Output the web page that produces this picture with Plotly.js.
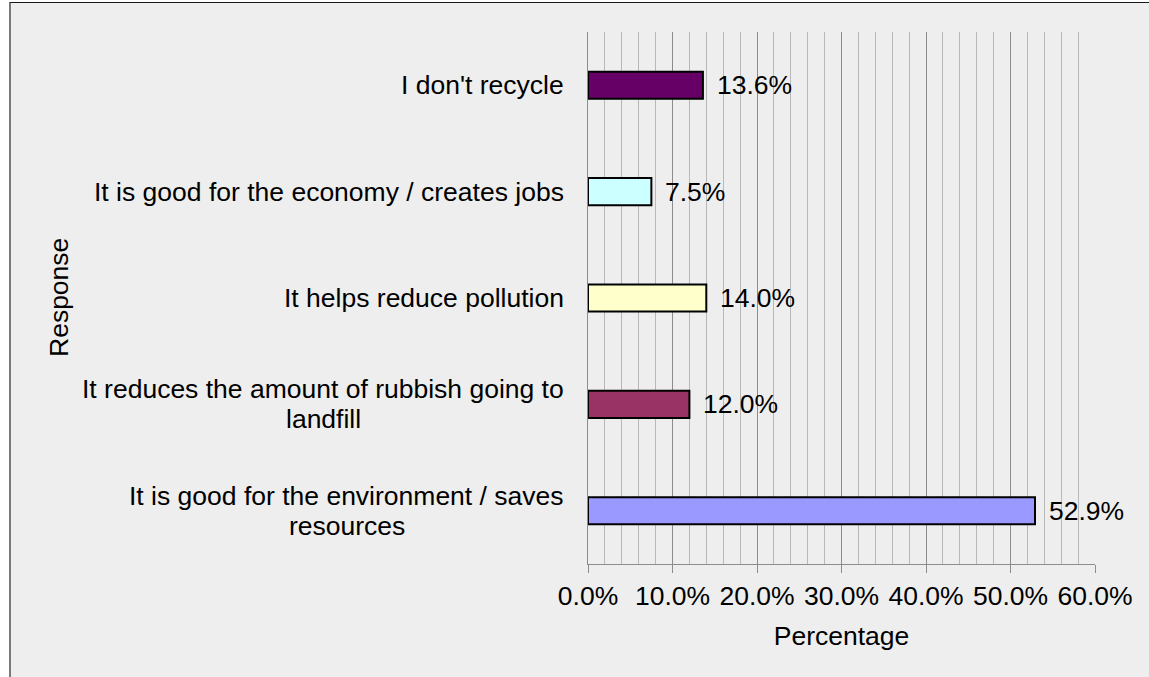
<!DOCTYPE html>
<html>
<head>
<meta charset="utf-8">
<script src="https://cdn.plot.ly/plotly-3.0.1.min.js"></script>
<style>
  html, body { margin: 0; padding: 0; background: #ffffff; }
  #frame { position: absolute; left: 9px; top: 2px; width: 1140px; height: 675px;
           background: #eeeeee; border-top: 1px solid #1a1a1a; border-left: 2px solid #7a7a7a; box-sizing: border-box; }
  #chart { position: absolute; left: 0; top: 0; width: 1149px; height: 677px; }
</style>
</head>
<body>
<div id="frame"></div>
<div id="chart"></div>
<script>
// Categories listed bottom to top
var categories = [
  "It is good for the environment / saves<br>resources",
  "It reduces the amount of rubbish going to<br>landfill",
  "It helps reduce pollution",
  "It is good for the economy / creates jobs",
  "I don't recycle"
];
var values = [52.9, 12.0, 14.0, 7.5, 13.6];
var barColors = ["#9999ff", "#993366", "#ffffcc", "#ccffff", "#660066"];
var xTitle = "Percentage";
var yTitle = "Response";

var FONT = "Liberation Sans, Arial, sans-serif";
var FS = 26.5;
var LINE_GAP = 30;

var trace = {
  type: "bar",
  orientation: "h",
  y: categories,
  x: values,
  width: 0.255,
  marker: { color: barColors, line: { color: "#000000", width: 2 } },
  hoverinfo: "none"
};

// measure text widths to centre wrapped lines within a right-aligned block
var ctx = document.createElement("canvas").getContext("2d");
ctx.font = FS + "px 'Liberation Sans', Arial, sans-serif";
function textW(s) { return ctx.measureText(s).width; }

var annotations = [];
categories.forEach(function (c) {
  var lines = c.split("<br>");
  var maxW = Math.max.apply(null, lines.map(textW));
  var n = lines.length;
  lines.forEach(function (ln, k) {
    annotations.push({
      xref: "paper", yref: "y", x: 0, y: c,
      xanchor: "center", yanchor: "middle", align: "center",
      xshift: -24 - maxW / 2,
      yshift: ((n - 1) / 2 - k) * LINE_GAP,
      showarrow: false, text: ln,
      font: { family: FONT, size: FS, color: "#000" }
    });
  });
});
// value labels
categories.forEach(function (c, i) {
  annotations.push({
    xref: "x", yref: "y", x: values[i], y: c,
    xanchor: "left", yanchor: "middle",
    xshift: 12, showarrow: false, text: values[i].toFixed(1) + "%",
    font: { family: FONT, size: FS, color: "#000" }
  });
});
// y axis title
annotations.push({
  xref: "paper", yref: "paper", x: (59 - 588) / 507, y: 0.5,
  xanchor: "center", yanchor: "middle", textangle: -90, showarrow: false,
  text: yTitle, font: { family: FONT, size: FS, color: "#000" }
});

var layout = {
  width: 1149, height: 677,
  margin: { l: 588, r: 54, t: 32, b: 113, pad: 0 },
  paper_bgcolor: "rgba(0,0,0,0)",
  plot_bgcolor: "rgba(0,0,0,0)",
  font: { family: FONT, size: FS, color: "#000" },
  showlegend: false,
  bargap: 0,
  xaxis: {
    range: [0, 60], dtick: 10, tick0: 0,
    tickformat: ".1f", ticksuffix: "%",
    showgrid: true, gridcolor: "#8c8c8c", gridwidth: 1,
    minor: { dtick: 2, showgrid: true, gridcolor: "#b8b8b8", gridwidth: 1, ticks: "" },
    zeroline: false,
    showline: true, linecolor: "#8c8c8c", linewidth: 1,
    ticks: "outside", ticklen: 8, tickcolor: "#8c8c8c", tickwidth: 1,
    tickfont: { family: FONT, size: FS, color: "#000" },
    title: { text: xTitle, font: { family: FONT, size: FS, color: "#000" }, standoff: 16 },
    fixedrange: true
  },
  yaxis: {
    type: "category",
    range: [-0.5, 4.5],
    showticklabels: false,
    showgrid: false, zeroline: false,
    showline: true, linecolor: "#8c8c8c", linewidth: 1,
    ticks: "",
    fixedrange: true
  },
  annotations: annotations
};

Plotly.newPlot("chart", [trace], layout, { displayModeBar: false, staticPlot: true });
</script>
</body>
</html>
